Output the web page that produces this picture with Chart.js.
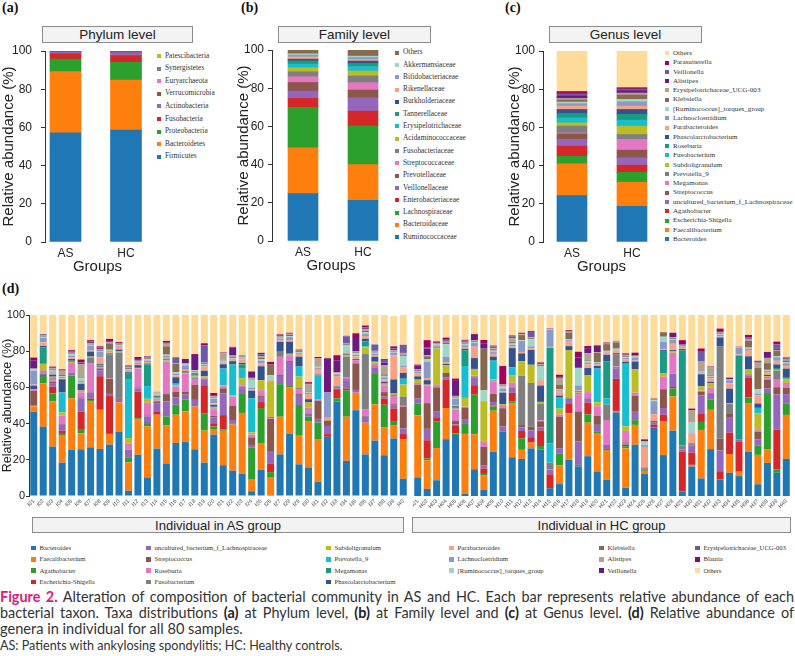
<!DOCTYPE html>
<html>
<head>
<meta charset="utf-8">
<script src="https://cdn.jsdelivr.net/npm/chart.js@4.4.1/dist/chart.umd.min.js"></script>
<style>
  body { margin: 0; width: 795px; height: 656px; position: relative; overflow: hidden; background: #fff;
         font-family: 'Liberation Sans', Arial, sans-serif; color: #222; }
  canvas { position: absolute; }
  .plabel { position: absolute; font-family: 'Liberation Serif', serif; font-weight: bold; font-size: 14px; color: #111; }
  .tbox { position: absolute; box-sizing: border-box; height: 17px; border: 1px solid #8c8c8c; background: #f3f3f3;
          font-size: 13.5px; line-height: 15px; text-align: center; color: #222; }
  .leg { position: absolute; font-family: 'Liberation Serif', serif; color: #333; white-space: nowrap; }
  .leg i { position: absolute; left: 0; }
  .cap { position: absolute; left: 0; white-space: nowrap; font-family: Lato, sans-serif; color: #333; }
  .cap.just { width: 794px; text-align: justify; text-align-last: justify; white-space: normal; }
  .cap b { color: #222; }
</style>
</head>
<body>

<div class="plabel" style="left:2px;top:0px">(a)</div>
<div class="plabel" style="left:241px;top:0px">(b)</div>
<div class="plabel" style="left:505px;top:0px">(c)</div>
<div class="plabel" style="left:2px;top:281px">(d)</div>

<div class="tbox" style="left:42px;top:26px;width:151px">Phylum level</div>
<div class="tbox" style="left:278px;top:26px;width:153px">Family level</div>
<div class="tbox" style="left:549px;top:26px;width:153px">Genus level</div>

<canvas id="chartA" width="150" height="234" style="left:0px;top:44px;width:150px;height:234px"></canvas>
<canvas id="chartB" width="155" height="234" style="left:235px;top:43px;width:155px;height:234px"></canvas>
<canvas id="chartC" width="154" height="234" style="left:506px;top:44px;width:154px;height:234px"></canvas>
<canvas id="chartAS" width="408" height="215" style="left:0px;top:300px;width:408px;height:215px"></canvas>
<canvas id="chartHC" width="378" height="215" style="left:413px;top:300px;width:378px;height:215px"></canvas>

<div class="tbox" style="left:32px;top:517px;width:372px;height:16px;font-size:13px">Individual in AS group</div>
<div class="tbox" style="left:412px;top:517px;width:379px;height:16px;font-size:13px">Individual in HC group</div>

<div id="legends"></div>

<div class="cap just" style="top:588px;font-size:14.4px"><span style="color:#d81b7f;font-weight:bold">Figure 2.</span> Alteration of composition of bacterial community in AS and HC. Each bar represents relative abundance of each</div>
<div class="cap just" style="top:604px;font-size:14.4px">bacterial taxon. Taxa distributions <b>(a)</b> at Phylum level, <b>(b)</b> at Family level and <b>(c)</b> at Genus level. <b>(d)</b> Relative abundance of</div>
<div class="cap" style="top:620px;font-size:14.6px">genera in individual for all 80 samples.</div>
<div class="cap" style="top:638px;font-size:12.6px">AS: Patients with ankylosing spondylitis; HC: Healthy controls.</div>

<script>
// ---- data ----
const groupLabels = ['AS', 'HC'];

const phylumNames = ['Firmicutes', 'Bacteroidetes', 'Proteobacteria', 'Fusobacteria', 'Actinobacteria',
  'Verrucomicrobia', 'Euryarchaeota', 'Synergistetes', 'Patescibacteria'];
const phylumAS = [57.2, 32, 6.6, 2.9, 0.6, 0.5, 0.1, 0.05, 0.05];
const phylumHC = [58.6, 26.2, 9.3, 3.5, 1.5, 0.7, 0.1, 0.05, 0.05];

const familyNames = ['Ruminococcaceae', 'Bacteroidaceae', 'Lachnospiraceae', 'Enterobacteriaceae', 'Veillonellaceae',
  'Prevotellaceae', 'Streptococcaceae', 'Fusobacteriaceae', 'Acidaminococcaceae', 'Erysipelotrichaceae',
  'Tannerellaceae', 'Burkholderiaceae', 'Rikenellaceae', 'Bifidobacteriaceae', 'Akkermansiaceae', 'Others'];
const familyAS = [24.8, 24, 21.1, 4.8, 3.8, 4.5, 3, 2.6, 2.1, 1.9, 1.7, 0.9, 1.2, 0.9, 0.7, 1.9];
const familyHC = [21.3, 18.7, 20.3, 7.7, 7, 4, 3.9, 3.5, 2.6, 2.3, 1.7, 1.2, 0.9, 1, 0.7, 3.2];

const genusNames = ['Bacteroides', 'Faecalibacterium', 'Escherichia-Shigella', 'Agathobacter',
  'uncultured_bacterium_f_Lachnospiraceae', 'Streptococcus', 'Megamonas', 'Prevotella_9', 'Subdoligranulum',
  'Fusobacterium', 'Roseburia', 'Phascolarctobacterium', 'Parabacteroides', 'Lachnoclostridium',
  '[Ruminococcus]_torques_group', 'Klebsiella', 'Erysipelotrichaceae_UCG-003', 'Alistipes', 'Veillonella',
  'Parasutterella', 'Others'];
const genusAS = [24.3, 16.6, 4, 5.3, 3.5, 2.9, 0.5, 3.6, 1.7, 2.6, 2.3, 2.1, 1.8, 1.2, 0.9, 1, 0.9, 1.2, 1.2, 1.2, 21.2];
const genusHC = [18.7, 12.6, 5.2, 3.7, 3.9, 4, 5.6, 2.6, 4.4, 3.1, 3, 2.6, 1.8, 2.2, 1.3, 2.2, 1.1, 1.2, 0.9, 0.7, 19.2];

// panel (d): genera in stacking order, one row per sample in that order
const genusD = ['Bacteroides', 'Faecalibacterium', 'Agathobacter', 'Escherichia-Shigella',
  'uncultured_bacterium_f_Lachnospiraceae', 'Streptococcus', 'Roseburia', 'Fusobacterium', 'Subdoligranulum',
  'Prevotella_9', 'Megamonas', 'Phascolarctobacterium', 'Parabacteroides', 'Lachnoclostridium',
  '[Ruminococcus]_torques_group', 'Klebsiella', 'Alistipes', 'Veillonella', 'Erysipelotrichaceae_UCG-003',
  'Blautia', 'Others'];

const asLabels = ['I01','I02','I03','I04','I05','I06','I07','I08','I09','I10','I11','I12','I13','I14','I15','I16',
  'I17','I18','I19','I20','I21','I22','I23','I24','I25','I26','I27','I28','I29','I30','I31','I32','I33','I34','I35',
  'I36','I37','I38','I39','I40'];
const hcLabels = ['H01','H02','H03','H04','H05','H06','H07','H08','H09','H10','H11','H12','H13','H14','H15','H16',
  'H17','H18','H19','H20','H21','H22','H23','H24','H25','H26','H27','H28','H29','H30','H31','H32','H33','H34','H35',
  'H36','H37','H38','H39','H40'];

const asSamples = [
  [46.5,3,0,0,0.7,7.8,1,0,0,0,0,2,0.5,7.7,0.7,0,0.5,4.6,0,1.5,23.5],
  [38.3,24,4,0.5,1,0,0.8,0.7,3.7,0,9.2,0.7,2,2.5,0.6,0.5,0.5,0,0.5,0,10.5],
  [27.3,25,4.4,3.7,2,0.8,1.5,0.5,0.7,0,0,1.2,1,0.8,0.5,0.6,0.5,0.5,0,0.5,28.5],
  [18.4,14.9,1.5,1.3,3.3,0.5,4.6,0,1.7,11,0,7.3,0.5,0.8,0.5,0.5,2.5,0.5,0,0.3,29.9],
  [25.5,28.5,12.5,0,1,0.5,5.5,0,0.5,0.7,0,1,1,0.8,0.7,0.5,0.5,0.5,0.5,0.5,19.3],
  [25.8,8.8,2.4,9.6,7.4,0.5,2.8,0,1,0,0,3.7,0.7,0.8,1.5,0.5,7.4,0.5,0.5,1.5,24.6],
  [26.9,25.2,0.9,0.9,3.3,0.5,15.7,3.1,0.5,0,0,2.8,0.5,2.8,0.5,0.5,0.5,0.5,0.5,0.5,13.9],
  [26,21.5,0.5,18.2,3.3,1,0.5,1,0,0,0.5,0.5,3.7,3,0.5,0.5,0.5,0.5,0.5,0.5,17.3],
  [28.4,5.9,0,21.3,0.8,8.3,0.3,13.1,0,0,0.8,0,0.6,0.5,0.8,3.5,0.5,0.5,0,1.5,13.2],
  [35.4,16.3,0,0,2,0.5,0,25.1,0.8,0,0,0.8,1,0.8,0.5,0.5,0.5,0,0,0.8,15],
  [2.9,15.7,2.8,0,4.2,0,3.3,0,3.1,32.6,3.3,0.5,0.8,0.5,0.5,0.5,0.5,0,0.4,0.5,27.9],
  [22.8,19.7,0.5,14.7,1.8,0.5,10.5,0,0.3,0,0,1.5,0.6,0.8,0.5,0.3,0.3,0.8,0,1.2,23.2],
  [10.3,28.2,1.8,0,3.7,0.5,7,0,2.2,7,12,0.5,0.8,0.8,0.8,0.5,0.3,0.3,0.3,0.3,22.7],
  [26.2,18.7,0,1.5,4.6,1.3,0.5,0.5,0.5,0.5,0.5,0.5,0.8,0.5,0.5,0.3,0.3,0,0,0,42.3],
  [18,21,5,0,8.3,4,18,0,0.5,0.5,0,0.5,1,0.8,0.5,4.6,1.5,0.5,0,1,14.3],
  [29.3,15.6,5.5,0,4.2,3.1,2.8,0,0.8,0.5,0.5,3.3,1,1,0.8,4.6,0.5,0,2.8,0.3,23.4],
  [29.8,17,6.4,0,2.8,1.5,10.1,0,0.5,0,0,0.8,0.8,2.5,0.5,0.3,0.3,2.4,0,0,24.3],
  [25.8,23.6,0,0,3.7,8.3,3.3,0.8,0.5,0.5,0.5,0.8,0.5,0.8,0.5,0,0,8.3,0,0.5,21.6],
  [18.4,17.7,9.4,15.7,3.1,0.5,0.8,0,0.5,0,0,3.1,2.4,0.8,0.5,0.5,0.3,0,9.5,1.2,15.6],
  [33.9,2.7,1.8,1.8,3.3,0.8,3.5,0.5,0.5,0.5,0,1,0.8,2.7,0.5,0.5,0.3,0.3,0,1.5,43.1],
  [17,19,0.7,8,12,2.8,1.2,0,0.5,9.2,0,2.4,1,0.5,0.5,0.5,3.5,0,0,0.5,20.7],
  [14,25.5,0.7,0,1.8,8,5,0,0.7,17,0,1.8,0.8,0.5,0.5,0.5,0.8,4.5,0,0.3,17.6],
  [12.2,33.7,10.9,0,2.8,0.5,1,0.5,3.5,5.2,2.4,0.8,2,0.5,0.5,0.5,0.5,0,0,0.3,22.2],
  [2.6,6.4,17.9,0,1.3,4.2,1.5,0,1.3,18.8,0,4.2,0.8,0.8,4.5,0.5,0.5,3.5,0,0,31.2],
  [14.5,14.8,19.3,3.3,2.8,0.5,3.1,0.5,5.2,0,0,7.7,1.5,1.5,1,0.8,0.8,0.5,0.5,0.8,20.9],
  [0.5,9.6,3.1,4.8,6.4,18.2,0.5,0.5,19.9,0,0,0,0.5,0.3,2.4,5.9,0,0,0,1.5,25.9],
  [23,20.8,18,0,4.5,0.5,10.1,2.8,0,0,0,5.5,0.8,1,0.5,0.5,0.5,0,0,0.8,10.7],
  [34.5,25.5,0.8,0,13.3,0.5,3,0.5,0.5,0,0,6.7,0.8,1.7,0.5,0.8,0.5,0.3,0,0.3,9.8],
  [17.5,16.2,16.6,0,5.5,0.5,2.8,0.5,6.4,5.5,0,5.5,1.5,0.5,0.5,0.5,0.3,0.3,0,0.3,19.1],
  [15.8,25.6,2.4,0,1.8,0.5,2.8,0,2.8,0,0,1.8,2.8,0.8,0.5,0.5,3.7,0.3,0,0.8,37.1],
  [7.8,23.3,9.5,0,2,10,0.5,0,0.5,13,0,0.5,3.1,0.5,0.8,0.5,4,0,0,0.8,23.2],
  [32.7,0,0,1.5,4.5,3,0,0,0,0,0,0,1.5,14,0,0,0,18.8,0,0.3,23.7],
  [52.2,0,1.8,5,0.5,0.5,0,0,0,0,0,0.5,5.8,1,0.5,0,0.5,6.7,0,2.8,22.2],
  [19.4,24.4,14.6,1,4.6,0.5,1.2,11.2,0.7,0,0.5,0.5,0.7,0.5,3.7,0.5,0.5,0,3.7,0.3,11.5],
  [47.4,9.7,0,0,1.5,14.7,1.6,0,0,0,0,0.7,1.5,0.8,1,0.5,0.5,7.4,0,2.6,10.1],
  [23,17.5,0,0,3.3,0.5,3.7,30.4,3.7,0.5,2.8,1.5,1.5,1.2,0.8,0.8,1,0.5,0.5,1,5.8],
  [30.6,20,16.8,0,3.7,0.5,1.8,0,0.5,0,0.5,2.5,1,0.8,0.5,0.5,0.5,0,3.5,0,16.3],
  [22.5,15.3,12.6,3.5,1,2.5,3.7,0.5,0.5,0,0,1,1.5,1,0.8,0.8,5,1.5,1.5,0.5,24.3],
  [31.8,7.4,1.8,7.4,1.8,0.5,4.6,0.5,0.8,0,0,7.8,13.3,1.5,0.5,0.5,0.5,0.5,0.5,1,16.8],
  [9.5,22,0,2.8,3,12,0.5,5.1,6.7,3.2,0,3.2,3,0.8,5.5,0.5,1,0.5,3.7,0.5,16.5]
];

const hcSamples = [
  [10.3,34.3,6.4,0,2.8,7.7,0.5,0.5,1.8,0,0,1.8,1.5,1,0.5,0.5,0.5,2,0,0.5,27.4],
  [3.9,15.9,1,10,6.3,14.2,9.7,0,0.5,0,0,2.5,1.2,9,1.5,1.5,0.5,3.7,0.5,4.2,13.9],
  [8.7,17.8,14.6,2,3.8,13.1,1,0.5,20,0.5,0,0.5,0.5,0.5,0.5,0.3,0.3,0,0,0.8,14.6],
  [31.4,17.2,0,15.7,1.3,2.4,0,0,4.2,0,0,0.8,1,2.8,7,1,0.5,0.5,0.5,1.2,12.5],
  [33.7,0,0.8,4.6,0.5,1.8,6.4,0,0.5,0,0.5,0.8,0.5,3.7,0.5,0.5,0.5,8.3,0,1.3,35.1],
  [1.1,33.2,5.5,0,2.3,6.8,0.5,0,4.8,17.6,8.7,0.8,1,1,0.5,0.5,0.5,0.5,0.5,0.5,13.7],
  [14.8,19.3,21.9,5.2,4.3,0.5,0.5,0,3.7,0,0,6,6.3,2,0.5,0.5,0.5,3,0,0.5,10.5],
  [3.4,7.9,0.9,3,1.8,10.1,3.2,0,22.1,0,0,0,0,0,6,23,0,3,0,1.8,13.8],
  [24.4,22.7,2.3,0.5,2,4.6,6.9,0.5,0.5,10.1,0.5,2,1.5,1,0.8,0.8,0.5,0.5,0.5,0.5,16.9],
  [35.5,0,0,0,2.9,10.1,1.8,0,0.5,0,0,6.3,0.8,1.5,1.2,0.5,0.5,0,0,10.2,28.2],
  [21.4,29.7,1.2,4.7,2.9,0.5,2.2,0,4.2,4.3,0,10.6,0.8,1,0.7,0.8,2.2,0.5,0.5,0.5,11.3],
  [20.5,5,6.4,4,2,1.3,0,27.2,8,0,0,4.4,0.8,6,0.5,2.8,0.5,0.5,0,0.3,9.8],
  [26.3,3.2,0,3,3.8,2,0,24.2,10,0,0,8.2,1,1,4,0.5,0.5,0,3,0.5,8.8],
  [25.7,0,1.9,8.7,1.5,3.5,0.5,9,1.2,0,0,9,2.8,0.5,7.5,0.5,0.5,0.5,0,0.5,26.2],
  [4.3,0,0,7.7,2.4,0,0.5,3.5,0,10.6,52.9,0,0.5,9.5,0.5,0,0,0,0,0.3,7.3],
  [6.6,10.4,6.6,0,2.8,17.5,1.2,0,3.2,6.4,0,0.8,2.6,0.5,0.5,2.5,3.7,0.5,0,1.2,33],
  [20,25.7,0,5.5,2.6,0.5,0,0,26.3,0,0,2.2,2.8,0.5,0.5,3.7,0.5,0.3,0,0.5,8.4],
  [16.3,0,0.9,0,12.9,16.6,9.6,0.5,0.5,0,0,0.5,0.5,2.8,9.7,0,0,5.8,0,3.1,20.3],
  [22,18.5,4.6,6.4,2.4,0.5,3,0,9.2,0,0,4.1,2,1,1,0.5,3.7,2.8,0,1.2,17.1],
  [13.6,21.2,1,0,3.5,5.1,5.2,0,2.2,18.6,0,1.5,0.8,0.8,0.5,5,0.5,3.5,0,0.3,16.7],
  [8.9,16.5,0.6,0,2.2,0,13.8,8.5,0,3.5,20.3,3.7,1.2,0.5,0.5,3.7,0.3,0.3,0,0.3,15.2],
  [46.2,0.8,0,17.7,5.9,0.5,0.5,6.8,0,0,0,0.5,1.5,0.5,0.5,3.5,0.5,0,0,0.3,14.3],
  [4.6,21.7,1.2,0.8,0.8,0.5,5.9,0.5,2.5,34.4,0.5,0.8,1.2,0.8,0.5,0.5,0.5,0.5,0.5,0.3,21.5],
  [28.3,11,2.6,0,4.6,8.8,1.8,0,13,0,0,4.2,0.5,1.8,0.5,0.5,0,0,0,1.6,20.8],
  [12.4,1.5,0.7,0.5,0.7,0,0,0,0,0,0,0,11.3,1,1.8,0,0.5,0,0,0.9,68.7],
  [37.8,0,0,1.5,1.2,0.5,0,0,0,0,0,0.5,3.7,7.2,0.5,0.5,0.8,0,0,0,45.8],
  [22.6,18.5,0,3.8,3.7,10.4,6.9,0,1.8,0,12.4,0.5,0.5,4.1,2.8,2.5,0,0,0,0,9.5],
  [36.1,18.9,4.4,0.8,7.4,0,11.5,0,1,0,0,0.5,3.5,2.2,0.5,0.5,0.5,2.4,0,0,9.8],
  [2.5,0,0,22.1,1,0,0,2.3,0,0,52.5,0.8,0.5,0.5,0.3,0.3,0.3,0.3,0.3,2.4,13.9],
  [16.3,0.9,0,6.8,4,0.5,0,0,0,0,0,0.5,5.5,0.5,5.5,0,6.8,0,0,1,51.7],
  [9.7,26.8,4.4,4.8,9.8,2.2,0.5,0,2.4,0,0,6.7,0.5,0.5,0.5,0.5,5,0,5.8,1.4,18.5],
  [25.9,21.7,5.7,0,3.2,0.5,2.8,0,2.5,0,0,0.8,2,0.8,0.5,0.5,4.5,0,0,0.3,28.3],
  [9.1,0,0,4.6,11.5,6.5,0,51.1,0,0,0,4.8,0.5,1,0.5,0.5,0.3,0.3,0,1.8,7.5],
  [12.8,10.4,0,11.8,8.2,2.1,0,5.5,0.5,0,0,8,2.9,1.8,0.3,0.3,0,0.8,0,0,34.6],
  [11,2.4,0,16.8,0.9,0,0,0,0,0,46.6,0,0.5,3.7,0.3,0,0,0,0,0.3,17.5],
  [24.4,26.9,3.2,10.8,1.3,0.5,0,0,2.8,0,0,7.3,3.5,0.8,0.5,3.7,0.8,0.5,0.5,1.5,11],
  [6.5,16.2,5.1,0,3.4,4.4,0.8,0,9.2,3.1,0,2.4,4.6,0.8,2.5,11.7,3,0.5,0,0.5,25.3],
  [18.3,7.6,31,0,2.6,4.6,1,0.5,0.5,0,0,0.8,1.5,0.8,0.5,3.7,2.9,3.3,0,0,20.4],
  [12.8,0,1.8,22,19.5,4,4.1,5,0.5,0,1,2,2,2,0.5,3,0.5,0.8,2.3,1.5,14.7],
  [20.5,24.3,6.4,0,5.1,3.5,2.2,0.5,1.8,0.5,0.5,5.1,1.5,1.5,0.5,1,0.5,0.5,0.5,0.3,23.3]
];

// same colour sequence is used by every panel, in stacking order
const palette = ['#1f77b4', '#ff7f0e', '#2ca02c', '#d62728', '#9467bd', '#8c564b', '#e377c2', '#7f7f7f',
  '#bcbd22', '#17becf', '#1a9b82', '#34538e', '#f8a283', '#8a9ac6', '#9ed6c8', '#886a4e', '#b3a28e',
  '#6b1a7f', '#6a5aa8', '#a3005c', '#fedb98'];

Chart.defaults.font.family = "'Liberation Sans', Arial, sans-serif";
Chart.defaults.color = '#222';

function groupChart(id, names, asVals, hcVals, o) {
  const datasets = names.map((n, i) => ({
    label: n,
    data: [{ x: 0, y: asVals[i] }, { x: 1, y: hcVals[i] }],
    backgroundColor: palette[i],
    barThickness: o.bar,
    borderWidth: 0
  }));
  return new Chart(document.getElementById(id), {
    type: 'bar',
    data: { datasets },
    options: {
      responsive: false,
      animation: false,
      layout: { padding: { top: 7, left: 0, right: 0, bottom: 0 } },
      plugins: { legend: { display: false }, tooltip: { enabled: false } },
      scales: {
        x: {
          type: 'linear', stacked: true, offset: false, min: o.xmin, max: o.xmax,
          grid: { display: false, drawTicks: false },
          border: { display: false },
          afterBuildTicks: s => { s.ticks = [{ value: 0 }, { value: 1 }]; },
          ticks: { callback: v => groupLabels[v], font: { size: 12 }, padding: 4, maxRotation: 0 },
          title: { display: true, text: 'Groups', font: { size: 15 }, padding: { top: 0, bottom: 2 } },
          afterFit: s => { s.height = 36; s.paddingLeft = 0; s.paddingRight = 0; }
        },
        y: {
          stacked: true, min: 0, max: 100,
          ticks: { stepSize: 20, font: { size: 12 }, padding: o.tickPad },
          grid: { drawOnChartArea: false, tickLength: 4, color: '#333' },
          border: { display: true, color: '#333' },
          title: { display: true, text: 'Relative abundance (%)', font: { size: 15 }, padding: 0 },
          afterFit: s => { s.width = o.yw; s.paddingTop = 0; s.paddingBottom = 0; }
        }
      }
    }
  });
}

function sampleChart(id, labels, rows, showY) {
  const datasets = genusD.map((n, i) => ({
    label: n,
    data: rows.map(r => r[i]),
    backgroundColor: palette[i],
    barPercentage: 0.74,
    categoryPercentage: 1,
    borderWidth: 0
  }));
  return new Chart(document.getElementById(id), {
    type: 'bar',
    data: { labels, datasets },
    options: {
      responsive: false,
      animation: false,
      layout: { padding: { top: 15, left: 0, right: 0, bottom: 0 } },
      plugins: { legend: { display: false }, tooltip: { enabled: false } },
      scales: {
        x: {
          stacked: true,
          grid: { display: false, drawTicks: false },
          border: { display: false },
          ticks: { autoSkip: false, minRotation: 45, maxRotation: 45, font: { size: 5.5 }, color: '#444', padding: 2 },
          afterFit: s => { s.height = 19; s.paddingLeft = 0; s.paddingRight = 0; }
        },
        y: {
          display: showY, stacked: true, min: 0, max: 100,
          ticks: { stepSize: 20, font: { size: 11 }, padding: 1 },
          grid: { drawOnChartArea: false, tickLength: 3, color: '#333' },
          border: { display: true, color: '#333' },
          title: { display: true, text: 'Relative abundance (%)', font: { size: 12.5 }, padding: 0 },
          afterFit: s => { s.width = showY ? 29 : 0; s.paddingTop = 0; s.paddingBottom = 0; }
        }
      }
    }
  });
}

groupChart('chartA', phylumNames, phylumAS, phylumHC, { xmin: -0.339, xmax: 1.397, bar: 31, yw: 45, tickPad: 9 });
groupChart('chartB', familyNames, familyAS, familyHC, { xmin: -0.517, xmax: 1.45, bar: 30, yw: 37, tickPad: 4 });
groupChart('chartC', genusNames, genusAS, genusHC, { xmin: -0.483, xmax: 1.467, bar: 30, yw: 37, tickPad: 4 });
sampleChart('chartAS', asLabels, asSamples, true);
sampleChart('chartHC', hcLabels, hcSamples, false);

// ---- legends (HTML), listed top to bottom = reverse stacking order ----
const legRoot = document.getElementById('legends');
function legendItem(x, y, text, color, size, box) {
  const d = document.createElement('div');
  d.className = 'leg';
  d.style.left = x + 'px';
  d.style.top = (y - size * 0.6) + 'px';
  d.style.fontSize = size + 'px';
  d.style.lineHeight = (size * 1.2) + 'px';
  d.style.paddingLeft = (box + 4) + 'px';
  const i = document.createElement('i');
  i.style.width = box + 'px';
  i.style.height = box + 'px';
  i.style.top = (size * 0.6 - box / 2) + 'px';
  i.style.background = color;
  d.appendChild(i);
  d.appendChild(document.createTextNode(text));
  legRoot.appendChild(d);
}
function sideLegend(names, x, y0, dy, size) {
  const n = names.length;
  for (let k = 0; k < n; k++) {
    const idx = n - 1 - k;
    legendItem(x, y0 + k * dy, names[idx], palette[idx], size, 4);
  }
}
sideLegend(phylumNames, 157, 56, 12.6, 7.4);
sideLegend(familyNames, 395, 52.7, 12.3, 7.4);
sideLegend(genusNames, 665, 53.3, 9.29, 7.1);

const dColX = [31, 146, 326, 449, 599, 695];
const dColRows = [4, 4, 4, 3, 3, 3];
let gi = 0;
dColX.forEach((x, c) => {
  for (let r = 0; r < dColRows[c]; r++) {
    legendItem(x, 548 + r * 11.3, genusD[gi], palette[gi], 6.7, 4.5);
    gi++;
  }
});
</script>
</body>
</html>
